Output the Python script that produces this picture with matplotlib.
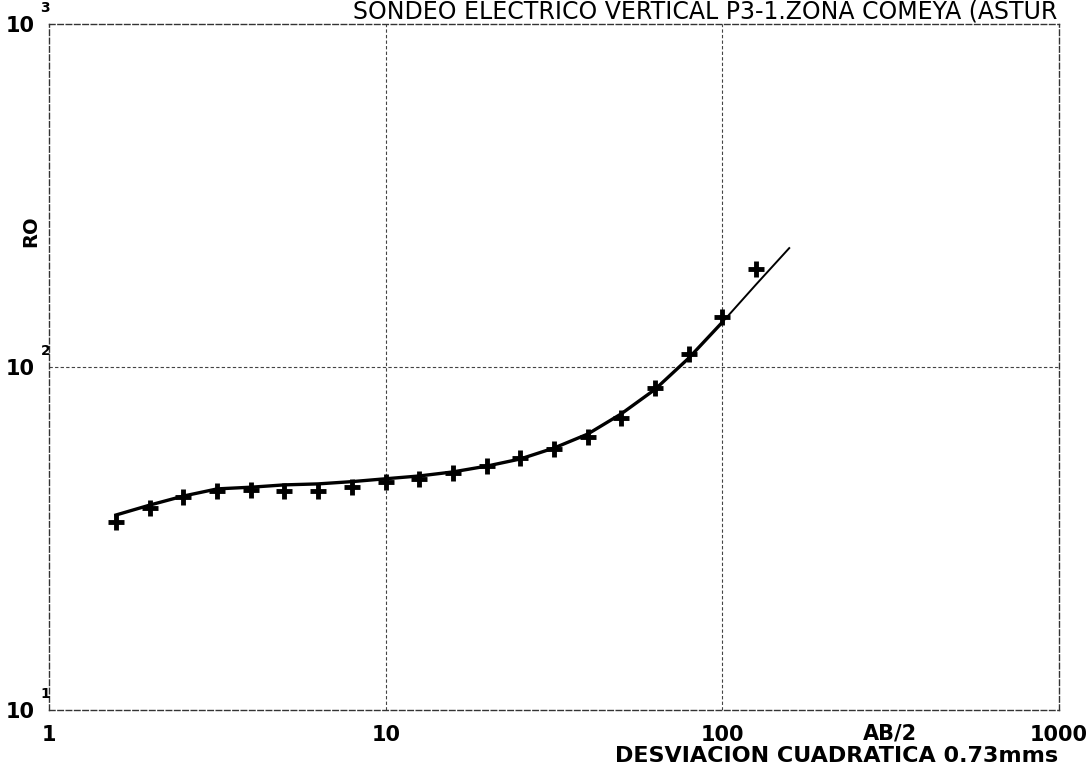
import matplotlib.pyplot as plt
from matplotlib.transforms import blended_transform_factory

# measured apparent resistivity (RO) versus AB/2
ab2 = [1.58, 2.0, 2.5, 3.16, 3.98, 5.0, 6.3, 7.94, 10.0, 12.6,
       15.8, 20.0, 25.1, 31.6, 39.8, 50.1, 63.1, 79.4, 100.0, 126.0]
ro = [35.3, 38.8, 41.8, 43.5, 43.8, 43.5, 43.5, 44.7, 46.3, 47.1,
      49.1, 51.4, 54.3, 57.7, 62.5, 71.0, 86.9, 109.0, 140.0, 193.0]

# fitted model curve
curveX = [1.58, 2.0, 2.5, 3.16, 3.98, 5.0, 6.3, 7.94, 10.0, 12.6,
          15.8, 20.0, 25.1, 31.6, 39.8, 50.1, 63.1, 79.4, 100.0]
curveY = [37.0, 39.6, 42.0, 44.1, 44.6, 45.3, 45.6, 46.3, 47.2, 48.1,
          49.4, 51.4, 53.9, 58.0, 63.7, 73.0, 86.0, 106.0, 135.0]
tailX = [100.0, 126.0, 158.0]
tailY = [135.0, 174.0, 222.0]

xTicks = [1, 10, 100, 1000]
xTickNames = ['1', '10', '100', '1000']
yTicks = [10, 100, 1000]
yExp = ['1', '2', '3']

font = 'DejaVu Sans'

fig = plt.figure(figsize=(10.92, 7.7), dpi=100)
ax = fig.add_axes([0.0449, 0.078, 0.9249, 0.891])
ax.set_xscale('log')
ax.set_yscale('log')
ax.set_xlim(1, 1000)
ax.set_ylim(10, 1000)

# dashed grid and frame like the pen plotter
for v in [10, 100]:
    ax.axvline(v, color='#444444', lw=0.8, ls=(0, (3, 2)))
ax.axhline(100, color='#444444', lw=0.8, ls=(0, (3, 2)))
for s in ax.spines.values():
    s.set_linestyle((0, (4, 2)))
    s.set_linewidth(1.0)
    s.set_color('#333333')

ax.plot(curveX, curveY, color='black', lw=2.4)
ax.plot(tailX, tailY, color='black', lw=1.4)
ax.plot(ab2, ro, ls='none', marker='+', ms=12, mew=3.5, color='black')

ax.minorticks_off()
ax.tick_params(length=0)
ax.set_xticks(xTicks, xTickNames)
ax.set_yticks(yTicks, ['10', '10', '10'])
for lbl in ax.get_xticklabels() + ax.get_yticklabels():
    lbl.set_fontfamily(font)
    lbl.set_fontweight('bold')
    lbl.set_fontsize(15)
ax.tick_params(axis='x', pad=11)
ax.tick_params(axis='y', pad=10)

trY = blended_transform_factory(ax.transAxes, ax.transData)
for v, e in zip(yTicks, yExp):
    ax.text(-0.0085, v * 1.06, e, transform=trY, fontsize=10, fontweight='bold',
            family=font, ha='left', va='bottom')

ax.text(0.833, -0.035, 'AB/2', transform=ax.transAxes, fontsize=15,
        fontweight='bold', family=font, ha='center', va='center')
fig.text(0.5631, 0.018, 'DESVIACION CUADRATICA 0.73mms', fontsize=16,
         fontweight='bold', family=font, ha='left', va='center')
fig.text(0.028, 0.70, 'RO', rotation=90, fontsize=14, fontweight='bold',
         family=font, ha='center', va='center')
fig.text(0.323, 0.985, 'SONDEO ELECTRICO VERTICAL P3-1.ZONA COMEYA (ASTUR',
         fontsize=17, family=font, ha='left', va='center')

fig.savefig('out.png', dpi=100)
